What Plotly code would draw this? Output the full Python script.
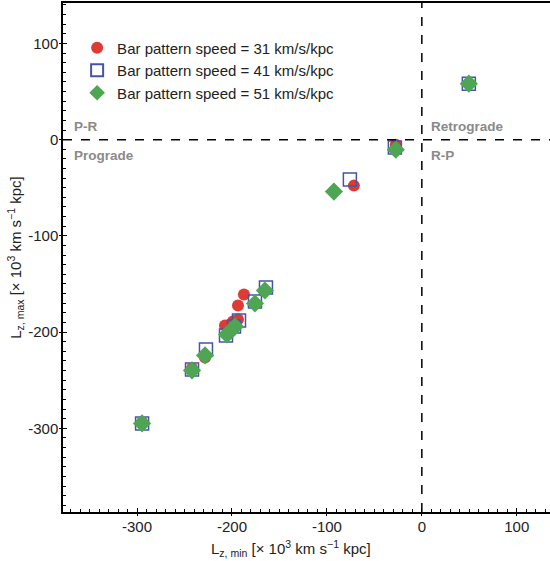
import plotly.graph_objects as go

# Data (x = Lz,min, y = Lz,max in 10^3 km s^-1 kpc)
x31 = [49.5, -27.4, -71.6, -187.4, -193.7, -193.7, -198.9, -207.4, -228.4, -242.1, -294.7]
y31 = [58.2, -5.2, -47.8, -161.0, -172.4, -186.9, -189.0, -193.1, -226.4, -237.8, -293.9]

x41 = [49.5, -28.4, -75.8, -164.2, -175.8, -192.6, -197.9, -206.3, -227.4, -242.1, -294.7]
y41 = [58.2, -8.3, -41.5, -153.7, -168.2, -188.0, -194.2, -203.5, -218.1, -238.8, -294.9]

x51 = [49.5, -27.4, -92.6, -165.3, -175.8, -196.8, -201.1, -205.3, -228.4, -242.1, -294.7]
y51 = [58.2, -10.4, -54.0, -156.8, -170.3, -194.2, -198.3, -202.5, -224.3, -239.9, -294.9]

series_names = ["Bar pattern speed = 31 km/s/kpc",
                "Bar pattern speed = 41 km/s/kpc",
                "Bar pattern speed = 51 km/s/kpc"]

xticks = [-300, -200, -100, 0, 100]
yticks = [-300, -200, -100, 0, 100]
xticktext = ["-300", "-200", "-100", "0", "100"]
yticktext = ["-300", "-200", "-100", "0", "100"]

XR = [-378, 135]
YR = [-387, 142]

FONT = "Liberation Sans, Arial, sans-serif"

fig = go.Figure()
fig.add_trace(go.Scatter(x=x31, y=y31, mode="markers", name=series_names[0],
                         marker=dict(symbol="circle", size=12, color="#e03a35",
                                     line=dict(width=0))))
fig.add_trace(go.Scatter(x=x41, y=y41, mode="markers", name=series_names[1],
                         marker=dict(symbol="square-open", size=13, color="#4455a5",
                                     line=dict(width=1.5))))
fig.add_trace(go.Scatter(x=x51, y=y51, mode="markers", name=series_names[2],
                         marker=dict(symbol="diamond", size=14, color="#4ea553",
                                     line=dict(width=0))))

# dashed zero lines
fig.add_shape(type="line", xref="x", yref="paper", x0=0, x1=0, y0=0, y1=1,
              line=dict(color="black", width=1.5, dash="dash"))
fig.add_shape(type="line", xref="paper", yref="y", x0=0, x1=1, y0=0, y1=0,
              line=dict(color="black", width=1.5, dash="dash"))

labels = [("P-R", -368, 4, "bottom"), ("Prograde", -368, -7, "top"),
          ("Retrograde", 8, 4, "bottom"), ("R-P", 8, -7, "top")]
for txt, xx, yy, ya in labels:
    fig.add_annotation(x=xx, y=yy, text="<b>%s</b>" % txt, showarrow=False,
                       xanchor="left", yanchor=ya,
                       font=dict(family=FONT, size=13.5, color="#8a8a8a"))

# x-axis title (offset to the left of the plot centre as in the reference)
fig.add_annotation(xref="paper", yref="paper", x=0.468, y=0, yshift=-36,
                   xanchor="center", yanchor="middle", showarrow=False,
                   text="L<sub>z, min</sub> [× 10<sup>3</sup> km s<sup>−1</sup> kpc]",
                   font=dict(family=FONT, size=15, color="#222"))

axis_common = dict(showgrid=False, zeroline=False, showline=True, linecolor="black",
                   linewidth=1.5, ticks="inside", ticklen=4, tickwidth=1.2,
                   tickcolor="black",
                   tickfont=dict(family=FONT, size=15, color="#222"),
                   minor=dict(dtick=10, ticks="inside", ticklen=3, tickwidth=1,
                              tickcolor="black"))

fig.update_xaxes(range=XR, tickvals=xticks, ticktext=xticktext, mirror=True,
                 **axis_common)
fig.update_yaxes(range=YR, tickvals=yticks, ticktext=yticktext,
                 title=dict(text="L<sub>z, max</sub> [× 10<sup>3</sup> km s<sup>−1</sup> kpc]",
                            font=dict(family=FONT, size=15, color="#222"), standoff=3),
                 **axis_common)

# overlay axes to make major ticks cross the axis line
fig.update_layout(
    xaxis2=dict(overlaying="x", range=XR, tickvals=xticks, showticklabels=False,
                ticks="outside", ticklen=3, tickwidth=1.2, tickcolor="black",
                showgrid=False, zeroline=False, showline=False, side="bottom"),
    yaxis2=dict(overlaying="y", range=YR, tickvals=yticks, showticklabels=False,
                ticks="outside", ticklen=3, tickwidth=1.2, tickcolor="black",
                showgrid=False, zeroline=False, showline=False, side="left"),
)
fig.add_trace(go.Scatter(x=[XR[0]], y=[YR[0]], xaxis="x2", yaxis="y2", mode="markers",
                         marker=dict(opacity=0), showlegend=False, hoverinfo="skip"))

fig.update_layout(width=550, height=561,
                  margin=dict(l=63, r=0, t=3, b=49),
                  plot_bgcolor="white", paper_bgcolor="white",
                  showlegend=True,
                  legend=dict(x=0.029, y=0.944, xanchor="left", yanchor="top",
                              bgcolor="rgba(0,0,0,0)", borderwidth=0,
                              font=dict(family=FONT, size=15, color="#222"),
                              itemsizing="constant"))

fig.write_html("out.html")
